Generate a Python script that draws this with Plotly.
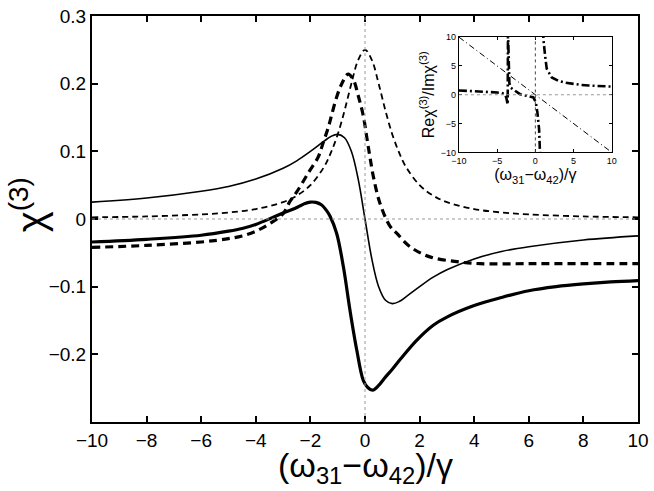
import plotly.graph_objects as go

# valores
x_thin = [-10, -8, -6, -5, -4, -3, -2.5, -2, -1.5, -1.25, -1, -0.75, -0.5, -0.25, 0,
          0.25, 0.5, 0.75, 1, 1.25, 1.5, 2, 2.5, 3, 4, 5, 6, 8, 10]
re_thin = [0.025, 0.031, 0.041, 0.048, 0.059, 0.075, 0.086, 0.1, 0.115, 0.122, 0.125, 0.12, 0.1, 0.059, 0,
           -0.059, -0.1, -0.12, -0.125, -0.122, -0.115, -0.1, -0.086, -0.075, -0.059, -0.048, -0.041, -0.031, -0.025]
im_thin = [0.0025, 0.0038, 0.0068, 0.0096, 0.0147, 0.025, 0.0345, 0.05, 0.077, 0.098, 0.125, 0.16, 0.2, 0.235, 0.25,
           0.235, 0.2, 0.16, 0.125, 0.098, 0.077, 0.05, 0.0345, 0.025, 0.0147, 0.0096, 0.0068, 0.0038, 0.0025]

x_re = [-10, -8, -6, -5, -4.5, -4, -3.4, -3, -2.67, -2.4, -2.2, -2.0, -1.8, -1.6, -1.4, -1.28, -1.04, -0.79,
        -0.55, -0.3, -0.06, 0.1, 0.28, 0.5, 0.7, 1.0, 1.3, 1.9, 2.5, 3.0, 4.0, 5.0, 6.0, 7.0, 8.0, 9.0, 10]
re_thick = [-0.034, -0.030, -0.024, -0.018, -0.014, -0.008, 0.002, 0.009, 0.014, 0.019, 0.023, 0.025, 0.0245,
            0.021, 0.012, 0.004, -0.021, -0.071, -0.135, -0.194, -0.239, -0.249, -0.253, -0.246, -0.236,
            -0.222, -0.207, -0.179, -0.157, -0.145, -0.128, -0.116, -0.106, -0.100, -0.096, -0.093, -0.091]

x_im = [-10, -8, -6, -5, -4.5, -4, -3.5, -3, -2.75, -2.5, -2.08, -1.71, -1.53, -1.34, -1.22, -1.04, -0.85,
        -0.62, -0.43, -0.24, -0.06, 0.06, 0.18, 0.32, 0.55, 0.92, 1.16, 1.65, 2.38, 3.36, 4.21, 6, 8, 10]
im_thick = [-0.042, -0.039, -0.034, -0.029, -0.025, -0.018, -0.007, 0.008, 0.026, 0.04, 0.068, 0.092, 0.113,
            0.136, 0.154, 0.18, 0.2, 0.214, 0.206, 0.181, 0.152, 0.122, 0.092, 0.06, 0.023, -0.011,
            -0.021, -0.041, -0.056, -0.063, -0.066, -0.066, -0.066, -0.066]

# inset: Re/Im
x_lin = [-10, 10]
y_lin = [10, -10]
x_rat = [-10, -8, -6, -5, -4.4, -4.0, -3.8, -3.7, -3.62, -3.58, -3.5, -3.4, -3.2, -2.66, -2.0, -1.4, -0.92,
         -0.26, 0.06, 0.27, 0.49, 0.66, 0.72, None, 0.95, 1.05, 1.27, 1.49, 2.15, 3.02, 3.9, 4.8, 6, 7, 8, 9, 10]
y_rat = [0.75, 0.64, 0.52, 0.4, 0.3, 0.1, -0.5, -1.1, -1.7, 11, 4, 2, 1.2, 0.7, 0.1, -0.1, -0.3,
         -0.47, -1.3, -3.1, -6, -10, -14, None, 14, 9.7, 6.8, 4.5, 3.0, 2.4, 2.1, 1.9, 1.7, 1.6, 1.5, 1.45, 1.42]

fnt = "Liberation Sans, Arial, sans-serif"

fig = go.Figure()
fig.add_trace(go.Scatter(x=x_thin, y=re_thin, mode="lines", line_shape="spline",
                         line=dict(color="black", width=1.6)))
fig.add_trace(go.Scatter(x=x_thin, y=im_thin, mode="lines", line_shape="spline",
                         line=dict(color="black", width=1.8, dash="6px,4px")))
fig.add_trace(go.Scatter(x=x_re, y=re_thick, mode="lines", line_shape="spline",
                         line=dict(color="black", width=3.2)))
fig.add_trace(go.Scatter(x=x_im, y=im_thick, mode="lines", line_shape="spline",
                         line=dict(color="black", width=3.2, dash="8px,5px")))

# inset
fig.add_trace(go.Scatter(x=x_lin, y=y_lin, mode="lines", xaxis="x2", yaxis="y2",
                         line=dict(color="black", width=1, dash="6px,3px,1px,3px")))
fig.add_trace(go.Scatter(x=x_rat, y=y_rat, mode="lines", xaxis="x2", yaxis="y2", connectgaps=False,
                         line=dict(color="black", width=2.6, dash="8px,3px,2px,3px")))

# lineas de cero punteadas
fig.add_hline(y=0, line=dict(color="#999999", width=1, dash="dot"))
fig.add_vline(x=0, line=dict(color="#999999", width=1, dash="dot"))
fig.add_shape(type="line", xref="x2", yref="y2", x0=-10, x1=10, y0=0, y1=0,
              line=dict(color="#999999", width=1, dash="dot"))
fig.add_shape(type="line", xref="x2", yref="y2", x0=0, x1=0, y0=-10, y1=10,
              line=dict(color="#444444", width=1, dash="dot"))

# titulos de ejes principales
fig.add_annotation(text="(ω<sub>31</sub>−ω<sub>42</sub>)/γ", xref="paper", yref="paper",
                   x=0.5, y=-0.113, xanchor="center", yanchor="middle", showarrow=False,
                   font=dict(size=34))
fig.add_annotation(text="χ<sup>(3)</sup>", xref="paper", yref="paper", textangle=-90,
                   x=-0.117, y=0.534, xanchor="center", yanchor="middle", showarrow=False,
                   font=dict(size=40))

fig.update_layout(
    width=654, height=491,
    margin=dict(l=92, r=16, t=16, b=69),
    plot_bgcolor="white", paper_bgcolor="white",
    showlegend=False,
    font=dict(family=fnt, color="black"),
    xaxis=dict(range=[-10, 10], tickvals=[-10, -8, -6, -4, -2, 0, 2, 4, 6, 8, 10],
               showline=True, linewidth=2, linecolor="black", mirror="ticks",
               ticks="inside", ticklen=6, tickwidth=1.5, tickcolor="black", automargin=False,
               showgrid=False, zeroline=False, tickfont=dict(size=19)),
    yaxis=dict(range=[-0.3, 0.3], tickvals=[-0.2, -0.1, 0, 0.1, 0.2, 0.3],
               ticktext=["−0.2", "−0.1", "0", "0.1", "0.2", "0.3"],
               showline=True, linewidth=2, linecolor="black", mirror="ticks",
               ticks="inside", ticklen=6, tickwidth=1.5, tickcolor="black", automargin=False,
               showgrid=False, zeroline=False, tickfont=dict(size=19)),
    xaxis2=dict(domain=[0.672, 0.952], anchor="y2", range=[-10, 10], tickvals=[-10, -5, 0, 5, 10],
                showline=True, linewidth=1, linecolor="black", mirror="ticks",
                ticks="inside", ticklen=3, tickcolor="black", automargin=False,
                showgrid=False, zeroline=False, tickfont=dict(size=9),
                title=dict(text="(ω<sub>31</sub>−ω<sub>42</sub>)/γ", font=dict(size=16), standoff=2)),
    yaxis2=dict(domain=[0.664, 0.948], anchor="x2", range=[-10, 10], tickvals=[-10, -5, 0, 5, 10],
                showline=True, linewidth=1, linecolor="black", mirror="ticks",
                ticks="inside", ticklen=3, tickcolor="black", automargin=False,
                showgrid=False, zeroline=False, tickfont=dict(size=9),
                title=dict(text="Reχ<sup>(3)</sup>/Imχ<sup>(3)</sup>", font=dict(size=16), standoff=2)),
)

# sin margen del body para que la figura ocupe la ventana
fig.write_html("out.html", config={"displayModeBar": False},
               post_script="document.body.style.margin='0';")
